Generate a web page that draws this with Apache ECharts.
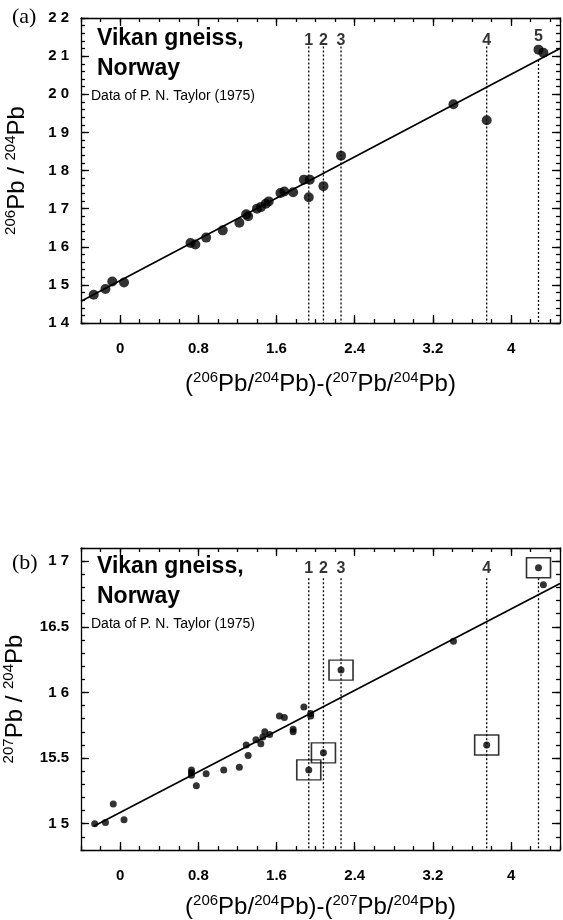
<!DOCTYPE html>
<html><head><meta charset="utf-8">
<script src="https://cdn.jsdelivr.net/npm/echarts@6/dist/echarts.min.js"></script>
<style>html,body{margin:0;padding:0;background:#fff}#c{width:563px;height:920px}</style>
</head><body><div id="c"></div>
<script>
// ---- data ----
const xTickLabels = [0, 0.8, 1.6, 2.4, 3.2, 4];
const yTicksA = [14, 15, 16, 17, 18, 19, 20, 21, 22];
const yTicksB = [15, 15.5, 16, 16.5, 17];
const yLabelsB = ['1 5', '15.5', '1 6', '16.5', '1 7'];

const pointsA = [
  [-0.27,14.74],[-0.15,14.89],[-0.08,15.09],[0.04,15.06],[0.72,16.10],[0.77,16.06],
  [0.88,16.24],[1.05,16.43],[1.22,16.63],[1.29,16.85],[1.31,16.80],[1.40,17.00],
  [1.44,17.04],[1.49,17.13],[1.52,17.19],[1.64,17.41],[1.68,17.45],[1.77,17.43],
  [1.88,17.76],[1.94,17.76],[1.93,17.30],[2.08,17.59],[2.26,18.39],[3.41,19.74],
  [3.75,19.32],[4.28,21.17],[4.33,21.09]
];
const fitA = [[-0.4,14.57],[4.5,21.2]];

const pointsB = [
  [-0.26,15.00],[-0.15,15.01],[-0.07,15.15],[0.04,15.03],[0.73,15.41],[0.73,15.39],
  [0.73,15.37],[0.78,15.29],[0.88,15.38],[1.06,15.41],[1.22,15.43],[1.29,15.60],
  [1.31,15.52],[1.39,15.64],[1.44,15.61],[1.46,15.66],[1.48,15.70],[1.53,15.68],
  [1.63,15.82],[1.68,15.81],[1.77,15.72],[1.77,15.70],[1.88,15.89],[1.95,15.84],
  [1.95,15.82],[1.93,15.41],[2.08,15.54],[2.26,16.17],[3.41,16.39],[3.75,15.60],
  [4.28,16.95],[4.33,16.82]
];
const boxedB = [[1.93,15.41],[2.08,15.54],[2.26,16.17],[3.75,15.60],[4.28,16.95]];
const fitB = [[-0.27,14.98],[4.5,16.83]];

const refX = [1.93, 2.08, 2.26, 3.75, 4.28];
const refNames = ['1', '2', '3', '4', '5'];
const refTopA = [21.25, 21.25, 21.25, 21.25, 20.9];
const refLabelYA = [21.42, 21.42, 21.42, 21.42, 21.52];
const refTopB = [16.87, 16.87, 16.87, 16.87, 16.87];
const refLabelYB = [16.94, 16.94, 16.94, 16.94];

// ---- chart ----
const FONT = 'Liberation Sans, Arial, sans-serif';
const black = '#000';
const tickFont = {fontFamily: FONT, fontWeight: 'bold', fontSize: 15, color: black};
const lineSt = {color: black, width: 1.3};
const nameStyle = {fontFamily: FONT, fontSize: 24, color: black, lineHeight: 28,
  rich: {s: {fontFamily: FONT, fontSize: 15, color: black, verticalAlign: 'top', lineHeight: 15}}};

const X_MIN = -0.4, X_MAX = 4.5;

function xAxes(g, nameGap) {
  const base = {gridIndex: g, type: 'value', min: X_MIN, max: X_MAX, splitLine: {show: false}};
  return [
    Object.assign({}, base, {
      position: 'bottom', interval: 0.2,
      axisLine: {show: true, onZero: false, lineStyle: lineSt},
      axisTick: {inside: true, length: 4, lineStyle: lineSt},
      axisLabel: Object.assign({customValues: xTickLabels, formatter: v => String(v), margin: 18}, tickFont),
      name: '({s|206}Pb/{s|204}Pb)-({s|207}Pb/{s|204}Pb)',
      nameLocation: 'middle', nameGap: nameGap,
      nameTextStyle: nameStyle
    }),
    Object.assign({}, base, {
      position: 'bottom', axisLine: {show: false, onZero: false},
      axisTick: {inside: true, length: 8, customValues: xTickLabels, lineStyle: lineSt},
      axisLabel: {show: false}
    }),
    Object.assign({}, base, {
      position: 'top', interval: 0.2,
      axisLine: {show: true, onZero: false, lineStyle: lineSt},
      axisTick: {inside: true, length: 4, lineStyle: lineSt},
      axisLabel: {show: false}
    }),
    Object.assign({}, base, {
      position: 'top', axisLine: {show: false, onZero: false},
      axisTick: {inside: true, length: 8, customValues: xTickLabels, lineStyle: lineSt},
      axisLabel: {show: false}
    })
  ];
}

function yAxes(g, min, max, minorStep, major, fmt, nameText) {
  const base = {gridIndex: g, type: 'value', min: min, max: max, splitLine: {show: false}};
  return [
    Object.assign({}, base, {
      position: 'left', interval: minorStep,
      axisLine: {show: true, onZero: false, lineStyle: lineSt},
      axisTick: {inside: true, length: 4, lineStyle: lineSt},
      axisLabel: Object.assign({customValues: major, formatter: fmt, margin: 12}, tickFont),
      name: nameText, nameLocation: 'middle', nameGap: 50, nameRotate: 90,
      nameTextStyle: nameStyle
    }),
    Object.assign({}, base, {
      position: 'left', axisLine: {show: false, onZero: false},
      axisTick: {inside: true, length: 8, customValues: major, lineStyle: lineSt},
      axisLabel: {show: false}
    }),
    Object.assign({}, base, {
      position: 'right', interval: minorStep,
      axisLine: {show: true, onZero: false, lineStyle: lineSt},
      axisTick: {inside: true, length: 4, lineStyle: lineSt},
      axisLabel: {show: false}
    }),
    Object.assign({}, base, {
      position: 'right', axisLine: {show: false, onZero: false},
      axisTick: {inside: true, length: 8, customValues: major, lineStyle: lineSt},
      axisLabel: {show: false}
    })
  ];
}

const fmtA = v => String(v).split('').join(' ');
const fmtB = v => {
  const i = yTicksB.findIndex(t => Math.abs(t - v) < 1e-6);
  return i >= 0 ? yLabelsB[i] : '';
};

function panelSeries(xi, yi, pts, dotSize, fit, tops, bottom, labelY, labelNames) {
  const s = [];
  refX.forEach((x, i) => {
    s.push({type: 'line', xAxisIndex: xi, yAxisIndex: yi, symbol: 'none', silent: true,
      data: [[x, tops[i]], [x, bottom]],
      lineStyle: {color: black, width: 1.3, type: [2, 2]}});
  });
  s.push({type: 'line', xAxisIndex: xi, yAxisIndex: yi, symbol: 'none', data: fit,
    lineStyle: {color: black, width: 1.7}});
  s.push({type: 'scatter', xAxisIndex: xi, yAxisIndex: yi, symbolSize: dotSize, data: pts,
    itemStyle: {color: black}});
  s.push({type: 'scatter', xAxisIndex: xi, yAxisIndex: yi, symbolSize: 1,
    itemStyle: {color: 'rgba(0,0,0,0)'},
    data: labelY.map((y, i) => ({value: [refX[i], y], name: labelNames[i]})),
    label: {show: true, position: 'inside', formatter: '{b}', fontFamily: FONT, fontWeight: 'bold',
      fontSize: 16, color: black}});
  return s;
}

const series = []
  .concat(panelSeries(0, 0, pointsA, 10, fitA, refTopA, yTicksA[0], refLabelYA, refNames))
  .concat(panelSeries(4, 4, pointsB, 7, fitB, refTopB, 14.8, refLabelYB, refNames.slice(0, 4)));
series.push({type: 'scatter', xAxisIndex: 4, yAxisIndex: 4, symbol: 'rect', symbolSize: [24, 20],
  data: boxedB, itemStyle: {color: 'rgba(0,0,0,0)', borderColor: black, borderWidth: 1.5}});

function textBlock(top) {
  return [
    {type: 'text', left: 97, top: top, style: {text: 'Vikan gneiss,', fontFamily: FONT, fontWeight: 'bold', fontSize: 23, fill: black}},
    {type: 'text', left: 97, top: top + 30, style: {text: 'Norway', fontFamily: FONT, fontWeight: 'bold', fontSize: 23, fill: black}},
    {type: 'text', left: 91, top: top + 62, style: {text: 'Data of P. N. Taylor (1975)', fontFamily: FONT, fontSize: 14, fill: black}}
  ];
}

const option = {
  animation: false,
  backgroundColor: '#fff',
  grid: [
    {left: 81, top: 18, width: 479, height: 305, containLabel: false, outerBoundsMode: 'none'},
    {left: 81, top: 548, width: 479, height: 302, containLabel: false, outerBoundsMode: 'none'}
  ],
  xAxis: xAxes(0, 47).concat(xAxes(1, 43)),
  yAxis: yAxes(0, 14, 22, 0.2, yTicksA, fmtA, '{s|206}Pb / {s|204}Pb')
    .concat(yAxes(1, 14.8, 17.1, 0.1, yTicksB, fmtB, '{s|207}Pb / {s|204}Pb')),
  series: series,
  graphic: [
    {type: 'text', left: 12, top: 6, style: {text: '(a)', fontFamily: 'Liberation Serif, serif', fontSize: 22, fill: black}},
    {type: 'text', left: 12, top: 552, style: {text: '(b)', fontFamily: 'Liberation Serif, serif', fontSize: 22, fill: black}}
  ].concat(textBlock(27)).concat(textBlock(555))
};

const chart = echarts.init(document.getElementById('c'), null, {renderer: 'canvas'});
chart.setOption(option);
</script>
</body></html>
